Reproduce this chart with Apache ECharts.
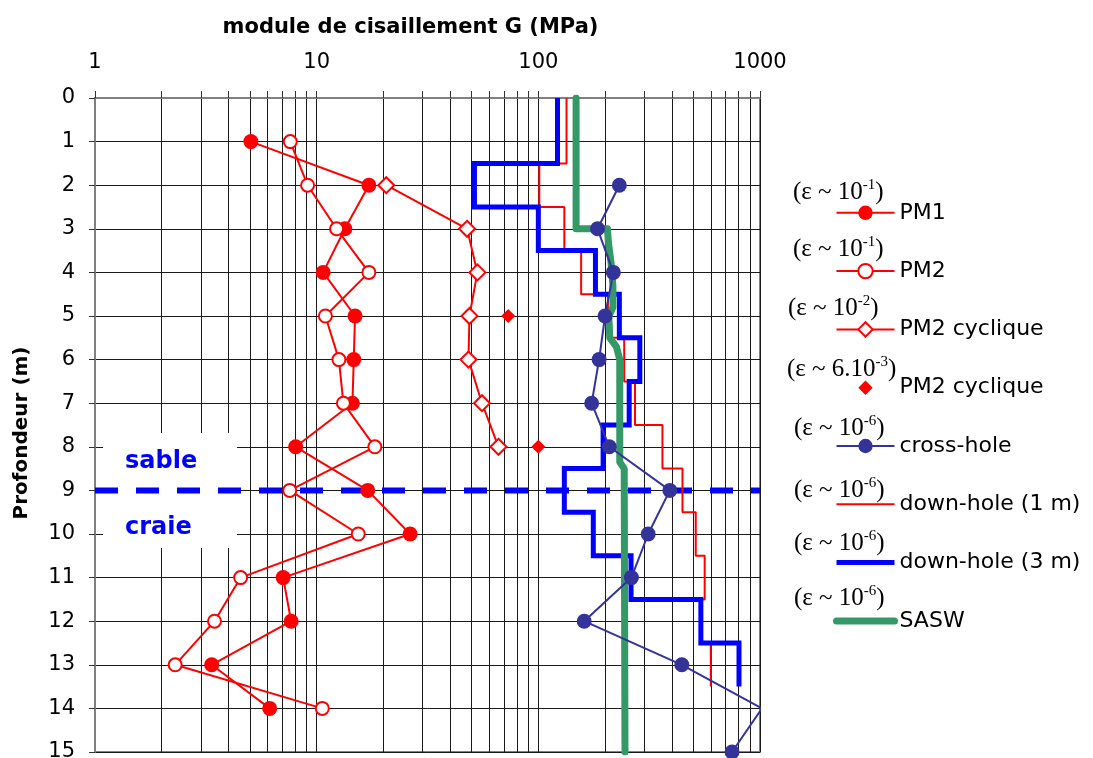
<!DOCTYPE html>
<html>
<head>
<meta charset="utf-8">
<script src="https://cdn.jsdelivr.net/npm/echarts@6/dist/echarts.min.js"></script>
<style>
html,body{margin:0;padding:0;background:#ffffff;}
#chart{width:1093px;height:758px;}
</style>
</head>
<body>
<div id="chart"></div>
<script>
// ---------------- data ----------------
const depthPM = [1, 2, 3, 4, 5, 6, 7, 8, 9, 10, 11, 12, 13, 14];
const pm1 = [5.05, 17.2, 13.4, 10.7, 14.9, 14.7, 14.5, 8.04, 17.0, 26.4, 7.06, 7.67, 3.36, 6.14];
const pm2 = [7.6, 9.1, 12.3, 17.2, 10.95, 12.6, 13.2, 18.3, 7.56, 15.4, 4.54, 3.46, 2.30, 10.6];

const depthCyc = [2, 3, 4, 5, 6, 7, 8];
const pm2Cyc = [20.6, 47.7, 53.1, 48.9, 48.4, 55.7, 66.1];

const depthCyc6 = [5, 8];
const pm2Cyc6 = [73.1, 100];

const depthCH = [2, 3, 4, 5, 6, 7, 8, 9, 10, 11, 12, 13, 14, 15];
const crossHole = [232, 185, 218, 200, 188, 174, 209, 392, 313, 263, 161, 444, 1020, 748];

// down-hole layers (boundaries in m, one value per layer)
const dhBounds = [0, 1.5, 2.5, 3.5, 4.5, 5.5, 6.5, 7.5, 8.5, 9.5, 10.5, 11.5, 12.5, 13.5];
const downHole1 = [134, 101, 131, 156, 206, 244, 273, 363, 447, 513, 563, 537, 600];
const downHole3 = [122, 51.5, 100, 181, 232, 287, 257, 196, 131, 177, 262, 541, 804];

const saswDepth = [0, 3, 3, 3.3, 3.8, 4.3, 4.8, 5.0, 5.5, 5.7, 6.0, 8.35, 8.5, 15];
const saswG = [148, 148, 205, 207, 213, 217, 217, 208, 210, 225, 233, 233, 244, 246];

const sandChalkDepth = 9;

const xLabelTicks = [1, 10, 100, 1000];
const seriesNames = ['PM1', 'PM2', 'PM2 cyclique', 'PM2 cyclique ', 'cross-hole', 'down-hole (1 m)', 'down-hole (3 m)', 'SASW'];
const strainMant = ['', '', '', '6.', '', '', '', ''];
const strainExp = ['-1', '-1', '-2', '-3', '-6', '-6', '-6', '-6'];

// ---------------- helpers ----------------
const SANS = '"DejaVu Sans", Arial, sans-serif';
const SERIF = '"Liberation Serif", "Times New Roman", serif';
const RED = '#ff0000', BLUE = '#0000ff', NAVY = '#333399', GREEN = '#339966';

function pairs(vals, depths) { return vals.map((v, i) => [v, depths[i]]); }
function layers(vals, bounds) {
  const out = [];
  vals.forEach((v, i) => { out.push([v, bounds[i]]); out.push([v, bounds[i + 1]]); });
  return out;
}
// log grid positions: 1..9 in each decade
const gridTicks = [];
for (let d = 1; d <= 100; d *= 10) { for (let k = 1; k <= 9; k++) gridTicks.push(k * d); }
gridTicks.push(1000);

// strain annotations above legend items
const epsX = [793, 793, 788, 787, 794, 794, 794, 794];
const epsY = [192, 249, 308, 369, 428, 490, 543, 598];
const epsGraphics = strainExp.map((e, i) => ({
  type: 'text', x: epsX[i], y: epsY[i], z: 10, silent: true,
  style: {
    text: '{a|(\u03b5 ~ ' + strainMant[i] + '10}{s|' + e + '}{a|)}',
    verticalAlign: 'middle', align: 'left',
    rich: {
      a: { fontFamily: SERIF, fontSize: 25, lineHeight: 28, fill: '#000' },
      s: { fontFamily: SERIF, fontSize: 15, lineHeight: 16, verticalAlign: 'top', fill: '#000' }
    }
  }
}));

const chart = echarts.init(document.getElementById('chart'), null, { renderer: 'canvas' });

const hidden = { opacity: 0 };

const option = {
  animation: false,
  backgroundColor: '#ffffff',
  grid: {
    left: 95, top: 98, width: 665, height: 654,
    show: true, borderColor: '#808080', borderWidth: 2, backgroundColor: 'transparent',
    containLabel: false, outerBoundsMode: 'none'
  },
  xAxis: {
    type: 'log', logBase: 10, position: 'top', min: 1, max: 1000,
    name: 'module de cisaillement G (MPa)', nameLocation: 'middle', nameGap: 60,
    nameTextStyle: { fontFamily: SANS, fontSize: 21, fontWeight: 'bold', color: '#000', padding: [0, 34, 0, 0] },
    axisLine: { show: true, lineStyle: { color: '#808080', width: 2 } },
    axisTick: { show: true, inside: false, length: 7, customValues: gridTicks, lineStyle: { color: '#333', width: 1 } },
    axisLabel: {
      customValues: xLabelTicks, margin: 25, fontFamily: SANS, fontSize: 21, color: '#000',
      formatter: v => String(Math.round(v))
    },
    splitLine: { show: true, lineStyle: { color: '#1a1a1a', width: 1 } },
    minorTick: { show: false }, minorSplitLine: { show: false }
  },
  yAxis: {
    type: 'value', inverse: true, min: 0, max: 15, interval: 1,
    name: 'Profondeur (m)', nameLocation: 'middle', nameGap: 63, nameRotate: 90,
    nameTextStyle: { fontFamily: SANS, fontSize: 20, fontWeight: 'bold', color: '#000', padding: [0, 16, 0, 0] },
    axisLine: { show: true, lineStyle: { color: '#808080', width: 2 } },
    axisTick: { show: true, inside: false, length: 6, lineStyle: { color: '#333', width: 1 } },
    axisLabel: { margin: 20, fontFamily: SANS, fontSize: 21, color: '#000' },
    splitLine: { show: true, lineStyle: { color: '#1a1a1a', width: 1 } }
  },
  legend: {
    orient: 'vertical', left: 833, top: 201.8, padding: 0,
    itemWidth: 58, itemHeight: 18, itemGap: 36.3,
    selectedMode: false, symbolKeepAspect: true,
    textStyle: { fontFamily: SANS, fontSize: 22, color: '#000', lineHeight: 22 },
    data: [
      { name: seriesNames[0] },
      { name: seriesNames[1] },
      { name: seriesNames[2] },
      { name: seriesNames[3], lineStyle: { width: 0, opacity: 0 } },
      { name: seriesNames[4] },
      { name: seriesNames[5], lineStyle: { width: 2 }, itemStyle: hidden },
      { name: seriesNames[6], lineStyle: { width: 5 }, itemStyle: hidden },
      { name: seriesNames[7], lineStyle: { width: 7, cap: 'round' }, itemStyle: hidden }
    ]
  },
  graphic: [
    { type: 'rect', shape: { x: 103, y: 433, width: 134, height: 115 }, style: { fill: '#ffffff' }, z: 1, silent: true },
    { type: 'text', x: 125, y: 462, z: 1, silent: true,
      style: { text: 'sable', fontFamily: SANS, fontSize: 24, fontWeight: 'bold', fill: BLUE, verticalAlign: 'middle' } },
    { type: 'text', x: 125, y: 528, z: 1, silent: true,
      style: { text: 'craie', fontFamily: SANS, fontSize: 24, fontWeight: 'bold', fill: BLUE, verticalAlign: 'middle' } }
  ].concat(epsGraphics),
  series: [
    {
      name: 'limite', type: 'line', z: 2, silent: true, symbol: 'none',
      data: [[1, sandChalkDepth], [1000, sandChalkDepth]],
      lineStyle: { color: BLUE, width: 6, type: [23, 18] }
    },
    {
      name: seriesNames[5], type: 'line', z: 3, symbol: 'none', silent: true,
      data: layers(downHole1, dhBounds),
      color: RED, lineStyle: { color: RED, width: 2 }
    },
    {
      name: seriesNames[6], type: 'line', z: 4, symbol: 'none', silent: true,
      data: layers(downHole3, dhBounds),
      color: BLUE, lineStyle: { color: BLUE, width: 5, join: 'miter' }
    },
    {
      name: seriesNames[7], type: 'line', z: 5, symbol: 'none', silent: true,
      data: pairs(saswG, saswDepth),
      color: GREEN, lineStyle: { color: GREEN, width: 7, join: 'round', cap: 'round' }
    },
    {
      name: seriesNames[0], type: 'line', z: 6, silent: true,
      data: pairs(pm1, depthPM),
      symbol: 'circle', symbolSize: 15,
      color: RED, lineStyle: { color: RED, width: 2 }, itemStyle: { color: RED }
    },
    {
      name: seriesNames[1], type: 'line', z: 7, silent: true,
      data: pairs(pm2, depthPM),
      symbol: 'circle', symbolSize: 13,
      color: RED, lineStyle: { color: RED, width: 2 },
      itemStyle: { color: '#ffffff', borderColor: RED, borderWidth: 2 }
    },
    {
      name: seriesNames[2], type: 'line', z: 8, silent: true,
      data: pairs(pm2Cyc, depthCyc),
      symbol: 'diamond', symbolSize: 16,
      color: RED, lineStyle: { color: RED, width: 2 },
      itemStyle: { color: '#ffffff', borderColor: RED, borderWidth: 2 }
    },
    {
      name: seriesNames[3], type: 'line', z: 9, silent: true,
      data: pairs(pm2Cyc6, depthCyc6),
      symbol: 'diamond', symbolSize: 14,
      color: RED, itemStyle: { color: RED }, lineStyle: { width: 0, opacity: 0 }
    },
    {
      name: seriesNames[4], type: 'line', z: 10, silent: true,
      data: pairs(crossHole, depthCH),
      symbol: 'circle', symbolSize: 15,
      color: NAVY, lineStyle: { color: NAVY, width: 2 }, itemStyle: { color: NAVY }
    }
  ]
};
chart.setOption(option);
</script>
</body>
</html>
